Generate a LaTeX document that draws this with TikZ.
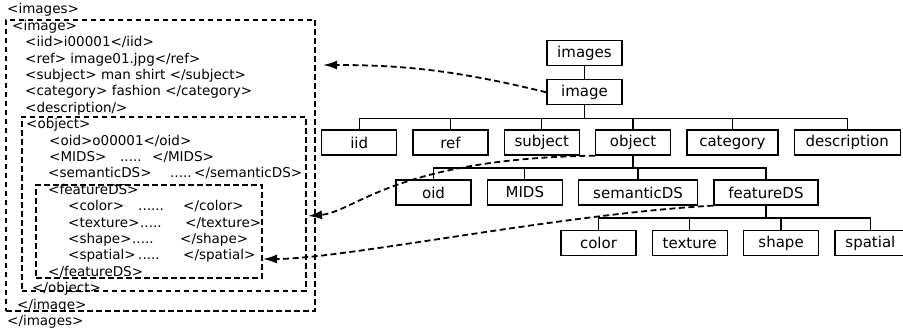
\documentclass[tikz,border=0pt]{standalone}
\usepackage{fontspec}
\setmainfont{DejaVu Sans}
\usetikzlibrary{positioning,calc,arrows.meta}

\tikzset{
    tag/.style={draw, line width=1.3pt, minimum width=75pt, minimum height=25pt,
        inner xsep=4pt, font=\fontsize{15}{18}\selectfont},
    xml/.style={anchor=base west, inner sep=0pt, font=\fontsize{13.5}{16}\selectfont},
    xmlbox/.style={draw, line width=1.7pt, dash pattern=on 5.5pt off 3.5pt,
        inner sep=0pt, outer sep=0pt},
    link/.style={line width=1.8pt, dash pattern=on 6pt off 3.5pt,
        -{Latex[length=14pt,width=9pt]}},
    branch/.style={line width=1.3pt}
}

\begin{document}
\begin{tikzpicture}[x=1pt,y=-1pt]
    \useasboundingbox (0,0) rectangle (903,331);

    \node[xml] (l0)  at (7,14)     {<images>};
    \node[xml] (l1)  at (12,30.4)  {<image>};
    \node[xml] (l2)  at (25,46.8)  {<iid>i00001</iid>};
    \node[xml] (l3)  at (25,63.2)  {<ref> image01.jpg</ref>};
    \node[xml] (l4)  at (25,79.6)  {<subject> man shirt </subject>};
    \node[xml] (l5)  at (25,96)    {<category> fashion </category>};
    \node[xml] (l6)  at (25,112.4) {<description/>};
    \node[xml] (l7)  at (26,128.8) {<object>};
    \node[xml] (l8)  at (49,145.2) {<oid>o00001</oid>};
    \node[xml] (l9)  at (49,161.6) {\makebox[71pt][l]{<MIDS>}\makebox[32pt][l]{.....}</MIDS>};
    \node[xml] (l10) at (48,178)   {\makebox[122pt][l]{<semanticDS>}\makebox[24pt][l]{.....}</semanticDS>};
    \node[xml] (l11) at (48,194.4) {<featureDS>};
    \node[xml] (l12) at (68,210.8) {\makebox[70pt][l]{<color>}\makebox[45pt][l]{......}</color>};
    \node[xml] (l13) at (68,227.2) {\makebox[72pt][l]{<texture>}\makebox[45pt][l]{.....}</texture>};
    \node[xml] (l14) at (68,243.6) {\makebox[64pt][l]{<shape>}\makebox[48pt][l]{.....}</shape>};
    \node[xml] (l15) at (68,260)   {\makebox[70pt][l]{<spatial>}\makebox[45pt][l]{.....}</spatial>};
    \node[xml] (l16) at (48,276.4) {</featureDS>};
    \node[xml] (l17) at (32,292.8) {</object>};
    \node[xml] (l18) at (17,309.2) {</image>};
    \node[xml] (l19) at (7,325.6)  {</images>};

    \node[xmlbox, minimum width=309pt, minimum height=291pt]   (imagebox)   at (160.5,165.5)   {};
    \node[xmlbox, minimum width=284.3pt, minimum height=174pt] (objectbox)  at (163.85,203.7)  {};
    \node[xmlbox, minimum width=225.7pt, minimum height=93.3pt] (featurebox) at (148.85,231.65) {};

    \node[tag] (images) at (584.5,53)                 {images};
    \node[tag] (image)  [below=13pt of images]         {image};

    \node[tag] (iid)         at (359.2,142.5)          {iid};
    \node[tag] (ref)         [right=15pt of iid]       {ref};
    \node[tag] (subject)     [right=15pt of ref]       {subject};
    \node[tag] (object)      [right=15pt of subject]   {object};
    \node[tag, minimum width=91pt]  (category)    [right=15pt of object]   {category};
    \node[tag, minimum width=106pt] (description) [right=15pt of category] {description};

    \node[tag] (oid)         at (433.5,192.5)          {oid};
    \node[tag] (MIDS)        [right=15pt of oid]       {MIDS};
    \node[tag, minimum width=119pt] (semanticDS)  [right=15pt of MIDS]       {semanticDS};
    \node[tag, minimum width=104pt] (featureDS)   [right=15pt of semanticDS] {featureDS};

    \node[tag] (color)       at (598.5,243)            {color};
    \node[tag] (texture)     [right=15pt of color]     {texture};
    \node[tag] (shape)       [right=15pt of texture]   {shape};
    \node[tag, minimum width=71pt]  (spatial)     [right=15pt of shape]    {spatial};

    \draw[branch] (images) -- (image);
    \foreach \n in {iid,ref,subject,object,category,description}
        \draw[branch] (image.south) -- ++(0,13) -| (\n.north);
    \foreach \n in {oid,MIDS,semanticDS,featureDS}
        \draw[branch] (object.south) -- ++(0,12.5) -| (\n.north);
    \foreach \n in {color,texture,shape,spatial}
        \draw[branch] (featureDS.south) -- ++(0,12.5) -| (\n.north);

    \draw[link] (image.west) .. controls +(-90,-22) and +(80,0) .. ($(imagebox.east)+(8,-100.5)$);
    \draw[link] (object.south west) .. controls +(-200,3) and +(47,-4) .. ($(objectbox.east)+(2,12.3)$);
    \draw[link] (featureDS.south west) .. controls +(-150,8) and +(80,0) .. ($(featurebox.east)+(1.3,27.35)$);
\end{tikzpicture}
\end{document}
